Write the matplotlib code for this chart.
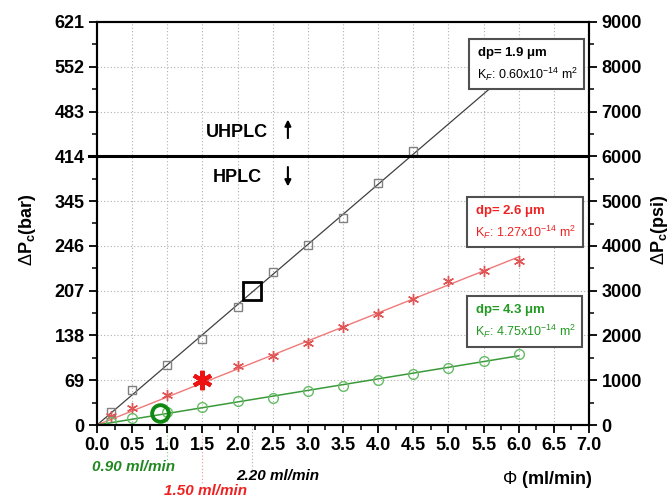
import numpy as np
import matplotlib
matplotlib.use("Agg")
import matplotlib.pyplot as plt
from matplotlib.patches import Rectangle

plt.rcParams['font.family'] = ['Liberation Sans', 'DejaVu Sans']
plt.rcParams['mathtext.fontset'] = 'custom'
plt.rcParams['mathtext.rm'] = 'Liberation Sans'
plt.rcParams['mathtext.it'] = 'Liberation Sans:italic'
plt.rcParams['mathtext.bf'] = 'Liberation Sans:bold'

# ---- data (pressure in psi, flow in ml/min) ----
x_black = [0.2, 0.5, 1.0, 1.5, 2.0, 2.5, 3.0, 3.5, 4.0, 4.5]
p_black = [297, 782, 1340, 1920, 2628, 3417, 4020, 4615, 5411, 6112]

x_red = [0.2, 0.5, 1.0, 1.5, 2.0, 2.5, 3.0, 3.5, 4.0, 4.5, 5.0, 5.5, 6.0]
p_red = [200, 372, 670, 1005, 1325, 1548, 1838, 2181, 2479, 2814, 3216, 3446, 3669]

x_green = [0.2, 0.5, 1.0, 1.5, 2.0, 2.5, 3.0, 3.5, 4.0, 4.5, 5.0, 5.5, 6.0]
p_green = [60, 163, 300, 402, 543, 610, 766, 878, 1005, 1131, 1273, 1437, 1585]

hl_x = [2.2, 1.5, 0.9]
hl_p = [3000, 1000, 261]

psi_ticks = [0, 1000, 2000, 3000, 4000, 5000, 6000, 7000, 8000, 9000]
bar_labels = ['0', '69', '138', '207', '246', '345', '414', '483', '552', '621']
x_ticks = [0.0, 0.5, 1.0, 1.5, 2.0, 2.5, 3.0, 3.5, 4.0, 4.5, 5.0, 5.5, 6.0, 6.5, 7.0]
limit_psi = 6000
line_end = 6.0

fig = plt.figure(figsize=(6.72, 4.99), dpi=100)
ax = fig.add_axes([97/672, 74/499, 492/672, 403/499])
ax.set_xlim(0, 7.0)
ax.set_ylim(0, 9000)

# grid
for xv in x_ticks[1:-1]:
    ax.axvline(xv, color='#b0b0b0', lw=0.8, ls=(0, (1, 2)), zorder=0)
for yv in psi_ticks[1:-1]:
    ax.axhline(yv, color='#b0b0b0', lw=0.8, ls=(0, (1, 2)), zorder=0)

def fit_line(xs, ps):
    xs = np.asarray(xs, float); ps = np.asarray(ps, float)
    k = np.sum(xs * ps) / np.sum(xs * xs)
    xx = np.array([0.0, line_end])
    return xx, k * xx

xx, yy = fit_line(x_black, p_black)
ax.plot(xx, yy, color='#404040', lw=0.9, zorder=2)
ax.plot(x_black, p_black, ls='none', marker='s', ms=6, mfc='none', mec='#808080', mew=1.0, zorder=3)

xx, yy = fit_line(x_red, p_red)
ax.plot(xx, yy, color='#f07878', lw=1.0, zorder=2)
ax.plot(x_red, p_red, ls='none', marker=(6, 2, 0), ms=8, mec='#e05555', mew=1.0, zorder=3)

xx, yy = fit_line(x_green, p_green)
ax.plot(xx, yy, color='#3a9a3a', lw=1.1, zorder=2)
ax.plot(x_green, p_green, ls='none', marker='o', ms=7, mfc='none', mec='#66bb66', mew=1.0, zorder=3)

# highlighted points
ax.plot(hl_x[0], hl_p[0], marker='s', ms=13, mfc='none', mec='black', mew=2.0, zorder=5)
ax.plot(hl_x[1], hl_p[1], marker=(6, 2, 0), ms=14, mec='#ee1111', mew=3.0, zorder=5)
ax.plot(hl_x[2], hl_p[2], marker='o', ms=12, mfc='none', mec='#118811', mew=2.8, zorder=5)

# UHPLC/HPLC limit
ax.axhline(limit_psi, color='black', lw=2.2, zorder=4)
ax.plot([-0.12, 0], [limit_psi, limit_psi], color='black', lw=2.2, clip_on=False)
ax.text(0.2846, 0.7246, 'UHPLC', transform=ax.transAxes, ha='center', va='center',
        fontsize=13, fontweight='bold')
ax.text(0.2846, 0.615, 'HPLC', transform=ax.transAxes, ha='center', va='center',
        fontsize=13, fontweight='bold')
ax.annotate('', xy=(0.388, 0.765), xytext=(0.388, 0.705), xycoords='axes fraction',
            arrowprops=dict(arrowstyle='-|>', color='black', lw=1.5, mutation_scale=9))
ax.annotate('', xy=(0.388, 0.585), xytext=(0.388, 0.647), xycoords='axes fraction',
            arrowprops=dict(arrowstyle='-|>', color='black', lw=1.5, mutation_scale=9))

# info boxes
boxes = [
    ((0.756, 0.834, 0.234, 0.124), 'black', r'dp= 1.9 $\mathbf{\mu}$m', r'K$_F$: 0.60x10$^{-14}$ m$^2$'),
    ((0.752, 0.442, 0.236, 0.124), '#ee2222', r'dp= 2.6 $\mathbf{\mu}$m', r'K$_F$: 1.27x10$^{-14}$ m$^2$'),
    ((0.752, 0.194, 0.234, 0.126), '#229922', r'dp= 4.3 $\mathbf{\mu}$m', r'K$_F$: 4.75x10$^{-14}$ m$^2$'),
]
for (bx, by, bw, bh), col, t1, t2 in boxes:
    ax.add_patch(Rectangle((bx, by), bw, bh, transform=ax.transAxes, facecolor='white',
                           edgecolor='#505050', lw=1.5, zorder=6))
    ax.text(bx + 0.016, by + bh * 0.72, t1, transform=ax.transAxes, color=col,
            fontsize=9.5, fontweight='bold', va='center', zorder=7)
    ax.text(bx + 0.016, by + bh * 0.30, t2, transform=ax.transAxes, color=col,
            fontsize=9, va='center', zorder=7)

# axes styling
ax.set_xticks(x_ticks)
ax.set_xticklabels([f'{v:.1f}' for v in x_ticks], fontsize=13, fontweight='bold')
ax.set_xticks(np.arange(0.25, 7.0, 0.5), minor=True)
ax.set_yticks(psi_ticks)
ax.set_yticklabels(bar_labels, fontsize=13, fontweight='bold')
ax.set_yticks(np.arange(500, 9000, 1000), minor=True)
ax.tick_params(which='major', direction='out', length=6, width=1.3, pad=3)
ax.tick_params(which='minor', direction='out', length=3.5, width=1.1)
for s in ax.spines.values():
    s.set_linewidth(1.5)

ax2 = ax.twinx()
ax2.set_ylim(0, 9000)
ax2.set_yticks(psi_ticks)
ax2.set_yticklabels([str(v) for v in psi_ticks], fontsize=13, fontweight='bold')
ax2.set_yticks(np.arange(500, 9000, 1000), minor=True)
ax2.tick_params(which='major', direction='out', length=6, width=1.3, pad=3)
ax2.tick_params(which='minor', direction='out', length=3.5, width=1.1)
for s in ax2.spines.values():
    s.set_linewidth(1.5)

fig.text(28/672, 1 - 230/499, r'$\Delta$P$_\mathbf{c}$(bar)', rotation=90, ha='center', va='center',
         fontsize=13, fontweight='bold')
fig.text(659/672, 1 - 230/499, r'$\Delta$P$_\mathbf{c}$(psi)', rotation=90, ha='center', va='center',
         fontsize=13, fontweight='bold')
fig.text(547/672, 1 - 479/499, r'$\Phi$ (ml/min)', ha='center', va='center', fontsize=13, fontweight='bold')

# flow labels
fig.text(134/672, 1 - 467/499, '0.90 ml/min', color='#228822', ha='center', va='center',
         fontsize=11, fontweight='bold', style='italic')
fig.text(278/672, 1 - 476/499, '2.20 ml/min', color='black', ha='center', va='center',
         fontsize=11, fontweight='bold', style='italic')
fig.text(206/672, 1 - 491/499, '1.50 ml/min', color='#ee2222', ha='center', va='center',
         fontsize=11, fontweight='bold', style='italic')
for xv, col, yb in [(1.0, '#88cc88', -0.09), (hl_x[1], '#f09090', -0.15), (hl_x[0], '#aaaaaa', -0.11)]:
    ax.plot([xv, xv], [0, yb * 9000], color=col, lw=0.8, ls=(0, (1, 2)), clip_on=False, zorder=0)

fig.savefig('out.png', dpi=100)
